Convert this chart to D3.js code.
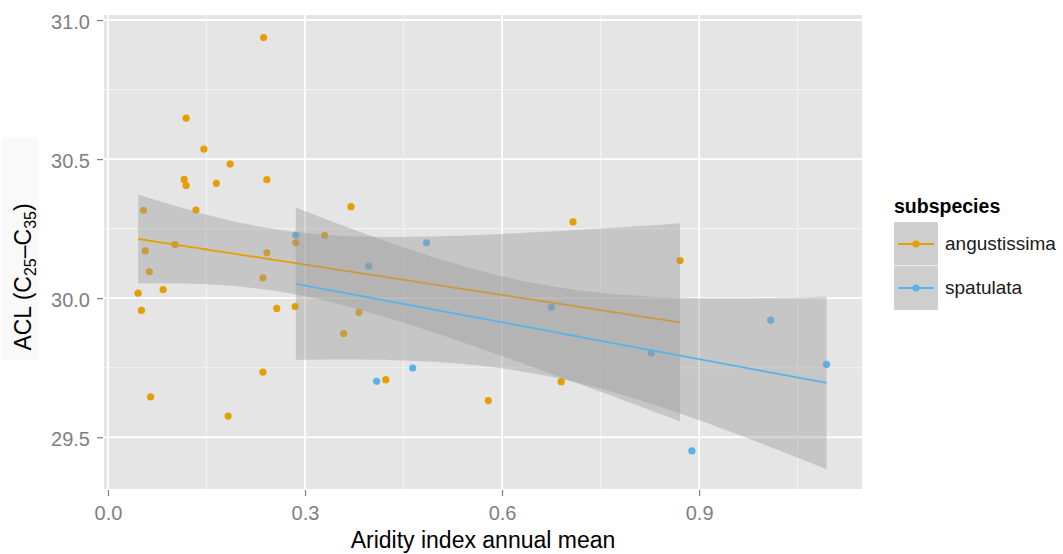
<!DOCTYPE html>
<html>
<head>
<meta charset="utf-8">
<script src="https://cdn.jsdelivr.net/npm/d3@7"></script>
<style>
  body { margin: 0; background: #ffffff; }
  text { font-family: "Liberation Sans", Arial, sans-serif; }
</style>
</head>
<body>
<svg id="chart" width="1063" height="554"></svg>
<script>
// ---- data -------------------------------------------------------------
const subspecies = ["angustissima", "spatulata"];
const subspeciesColors = ["#E69F00", "#56B4E9"];

const angustissimaAI = [0.237, 0.119, 0.146, 0.186, 0.116, 0.119, 0.165, 0.242, 0.054, 0.134,
                        0.102, 0.057, 0.242, 0.286, 0.063, 0.084, 0.046, 0.051, 0.236, 0.257,
                        0.285, 0.236, 0.065, 0.183, 0.370, 0.330, 0.382, 0.359, 0.423, 0.579,
                        0.708, 0.871, 0.690];
const angustissimaACL = [30.937, 30.647, 30.536, 30.482, 30.427, 30.405, 30.413, 30.426, 30.316, 30.317,
                         30.193, 30.170, 30.163, 30.199, 30.095, 30.031, 30.018, 29.956, 30.073, 29.963,
                         29.970, 29.734, 29.645, 29.576, 30.329, 30.226, 29.949, 29.873, 29.707, 29.632,
                         30.274, 30.135, 29.700];

const spatulataAI = [0.286, 0.397, 0.485, 0.464, 0.409, 0.675, 0.827, 0.889, 1.009, 1.094];
const spatulataACL = [30.227, 30.115, 30.199, 29.749, 29.701, 29.968, 29.803, 29.451, 29.921, 29.762];

const xTicks = [0, 0.3, 0.6, 0.9];
const xTickLabels = ["0.0", "0.3", "0.6", "0.9"];
const xMinor = [0.15, 0.45, 0.75, 1.05];
const yTicks = [29.5, 30.0, 30.5, 31.0];
const yTickLabels = ["29.5", "30.0", "30.5", "31.0"];
const yMinor = [29.75, 30.25, 30.75];

// 97.5% Student t quantiles for n-2 degrees of freedom (95% band)
const tQuantiles = [2.0395, 2.3060];

// ---- layout -----------------------------------------------------------
const panel = { left: 104, right: 862, top: 15, bottom: 489 };
const svg = d3.select("#chart");

const x = d3.scaleLinear().domain([-0.006, 1.148]).range([panel.left, panel.right]);
const y = d3.scaleLinear().domain([29.314, 31.018]).range([panel.bottom, panel.top]);

const groups = [
  { name: subspecies[0], color: subspeciesColors[0], xs: angustissimaAI, ys: angustissimaACL, t: tQuantiles[0] },
  { name: subspecies[1], color: subspeciesColors[1], xs: spatulataAI, ys: spatulataACL, t: tQuantiles[1] }
];

// ordinary least squares fit with a confidence band
function lmBand(xs, ys, t, steps = 80) {
  const n = xs.length;
  const mx = d3.mean(xs), my = d3.mean(ys);
  let sxx = 0, sxy = 0;
  for (let i = 0; i < n; i++) { sxx += (xs[i] - mx) ** 2; sxy += (xs[i] - mx) * (ys[i] - my); }
  const b = sxy / sxx, a = my - b * mx;
  let sse = 0;
  for (let i = 0; i < n; i++) sse += (ys[i] - (a + b * xs[i])) ** 2;
  const s = Math.sqrt(sse / (n - 2));
  const [lo, hi] = d3.extent(xs);
  return d3.range(steps).map(k => {
    const xv = lo + (hi - lo) * k / (steps - 1);
    const fit = a + b * xv;
    const se = s * Math.sqrt(1 / n + (xv - mx) ** 2 / sxx);
    return { x: xv, fit, lo: fit - t * se, hi: fit + t * se };
  });
}

// ---- y label box ------------------------------------------------------
svg.append("rect").attr("x", 2).attr("y", 137).attr("width", 36).attr("height", 223)
  .attr("fill", "#f9f9f9");

// ---- panel ------------------------------------------------------------
svg.append("rect")
  .attr("x", panel.left).attr("y", panel.top)
  .attr("width", panel.right - panel.left).attr("height", panel.bottom - panel.top)
  .attr("fill", "#E5E5E5");

const grid = svg.append("g");
grid.selectAll(".xminor").data(xMinor).join("line")
  .attr("x1", d => x(d)).attr("x2", d => x(d)).attr("y1", panel.top).attr("y2", panel.bottom)
  .attr("stroke", "#F2F2F2").attr("stroke-width", 1.1);
grid.selectAll(".yminor").data(yMinor).join("line")
  .attr("y1", d => y(d)).attr("y2", d => y(d)).attr("x1", panel.left).attr("x2", panel.right)
  .attr("stroke", "#F2F2F2").attr("stroke-width", 1.1);
grid.selectAll(".xmajor").data(xTicks).join("line")
  .attr("x1", d => x(d)).attr("x2", d => x(d)).attr("y1", panel.top).attr("y2", panel.bottom)
  .attr("stroke", "#FFFFFF").attr("stroke-width", 1.8);
grid.selectAll(".ymajor").data(yTicks).join("line")
  .attr("y1", d => y(d)).attr("y2", d => y(d)).attr("x1", panel.left).attr("x2", panel.right)
  .attr("stroke", "#FFFFFF").attr("stroke-width", 1.8);

// ---- points -----------------------------------------------------------
const pts = svg.append("g");
groups.forEach(g => {
  pts.selectAll(null).data(g.xs.map((v, i) => [v, g.ys[i]])).join("circle")
    .attr("cx", d => x(d[0])).attr("cy", d => y(d[1])).attr("r", 3.6)
    .attr("fill", g.color);
});

// ---- smooths ----------------------------------------------------------
const area = d3.area().x(d => x(d.x)).y0(d => y(d.lo)).y1(d => y(d.hi));
const line = d3.line().x(d => x(d.x)).y(d => y(d.fit));
groups.forEach(g => {
  const band = lmBand(g.xs, g.ys, g.t);
  svg.append("path").datum(band).attr("d", area)
    .attr("fill", "#999999").attr("fill-opacity", 0.4);
  svg.append("path").datum(band).attr("d", line)
    .attr("fill", "none").attr("stroke", g.color).attr("stroke-width", 1.8);
});

// ---- axes -------------------------------------------------------------
const xAxis = svg.append("g").attr("transform", `translate(0,${panel.bottom + 1})`)
  .call(d3.axisBottom(x).tickValues(xTicks).tickFormat((d, i) => xTickLabels[i]).tickSize(6));
xAxis.select(".domain").remove();
xAxis.selectAll(".tick line").attr("stroke", "#7F7F7F").attr("stroke-width", 1.2);
xAxis.selectAll(".tick text").attr("y", 30).attr("dy", null)
  .attr("fill", "#7F7F7F").style("font-size", "20px");

const yAxis = svg.append("g").attr("transform", `translate(${panel.left - 1},0)`)
  .call(d3.axisLeft(y).tickValues(yTicks).tickFormat((d, i) => yTickLabels[i]).tickSize(6));
yAxis.select(".domain").remove();
yAxis.selectAll(".tick line").attr("stroke", "#7F7F7F").attr("stroke-width", 1.2);
yAxis.selectAll(".tick text").attr("x", -13).attr("dy", "8.7px")
  .attr("fill", "#7F7F7F").style("font-size", "20px");

// axis titles
svg.append("text").attr("x", (panel.left + panel.right) / 2).attr("y", 548)
  .attr("text-anchor", "middle").attr("fill", "#000").style("font-size", "23px")
  .text("Aridity index annual mean");

const yl = svg.append("text").attr("transform", "translate(31,277) rotate(-90)")
  .attr("text-anchor", "middle").attr("fill", "#000").style("font-size", "23px");
yl.append("tspan").text("ACL (C");
yl.append("tspan").attr("dy", 5).style("font-size", "16px").text("25");
yl.append("tspan").attr("dy", -5).text("–C");
yl.append("tspan").attr("dy", 5).style("font-size", "16px").text("35");
yl.append("tspan").attr("dy", -5).text(")");

// ---- legend -----------------------------------------------------------
const legend = svg.append("g");
legend.append("text").attr("x", 894).attr("y", 213)
  .style("font-size", "19.5px").style("font-weight", "bold").attr("fill", "#000")
  .text("subspecies");
groups.forEach((g, i) => {
  const ky = 222 + i * 44;
  legend.append("rect").attr("x", 894).attr("y", ky).attr("width", 44).attr("height", 44)
    .attr("fill", "#F2F2F2").attr("stroke", "#FFFFFF").attr("stroke-width", 1);
  legend.append("rect").attr("x", 894).attr("y", ky).attr("width", 44).attr("height", 44)
    .attr("fill", "#999999").attr("fill-opacity", 0.4);
  legend.append("line").attr("x1", 898).attr("x2", 934).attr("y1", ky + 22).attr("y2", ky + 22)
    .attr("stroke", g.color).attr("stroke-width", 1.8);
  legend.append("circle").attr("cx", 916).attr("cy", ky + 22).attr("r", 3.6).attr("fill", g.color);
  legend.append("text").attr("x", 945).attr("y", ky + 22).attr("dy", "0.33em")
    .style("font-size", "19px").attr("fill", "#1a1a1a").text(g.name);
});
</script>
</body>
</html>
